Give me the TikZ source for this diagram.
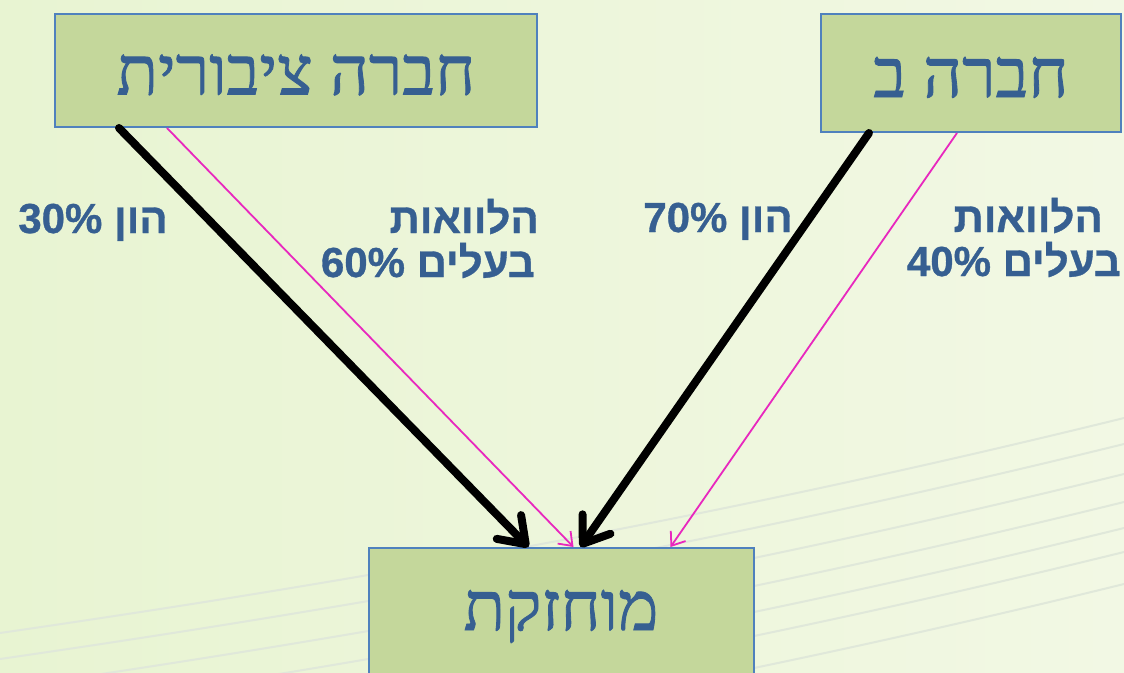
\documentclass[tikz,border=0pt]{standalone}
\usepackage{fontspec}
\usetikzlibrary{arrows.meta}
\TeXXeTstate=1
\newfontfamily\hebserif[Script=Hebrew,FakeBold=1.2]{Liberation Serif}
\newfontfamily\hebsans[Script=Hebrew,BoldFeatures={FakeBold=0.8}]{Liberation Sans}
\definecolor{bgA}{RGB}{232,244,210}
\definecolor{bgB}{RGB}{242,248,228}
\definecolor{boxfill}{RGB}{196,215,155}
\definecolor{boxline}{RGB}{79,129,189}
\definecolor{txt}{RGB}{54,95,145}
\definecolor{pinkline}{RGB}{232,40,190}
\definecolor{faint}{RGB}{224,232,218}
\begin{document}
\begin{tikzpicture}[x=1pt,y=-1pt,
  company/.style={draw=boxline, line width=2pt, fill=boxfill, inner sep=0pt,
    font=\hebserif\fontsize{68}{74}\selectfont, text=txt},
  lbl/.style={font=\hebsans\bfseries\fontsize{42}{46}\selectfont, text=txt, inner sep=0pt},
  equity/.style={line width=8pt, line cap=round, draw=black,
    -{Straight Barb[length=24pt,width=34pt,round]}},
  loan/.style={line width=1.8pt, draw=pinkline,
    -{Straight Barb[length=12pt,width=18pt]}}]
\useasboundingbox (0,0) rectangle (1124,672);
\fill[left color=bgA, right color=bgB] (0,0) rectangle (1124,672);
\begin{scope}
\clip (0,0) rectangle (1124,672);
\foreach \d in {0,26,56,84,110,134,166}
  \draw[faint, line width=2pt] (0,633+\d) .. controls (400,575+\d) and (750,510+\d) .. (1124,418+\d);
\end{scope}

\node[company, minimum width=482pt, minimum height=113pt, text height=48pt, text depth=0pt]
  (A) at (296,70.5) {\beginR חברה ציבורית\endR};
\node[company, minimum width=300pt, minimum height=118pt, text height=48pt, text depth=0pt]
  (B) at (971,73) {\beginR חברה ב\endR};
\node[company, minimum width=385pt, minimum height=164pt, text height=0pt, text depth=0pt]
  (C) at (561,630) {\beginR מוחזקת\endR};

\node[lbl, anchor=base east] (l1) at (168,233) {\beginR הון \beginL 30\%\endL\endR};
\node[lbl, anchor=base east] (l2a) at (539,233) {\beginR הלוואות\endR};
\node[lbl, anchor=base east] (l2b) at (535,277) {\beginR בעלים \beginL 60\%\endL\endR};
\node[lbl, anchor=base east] (l3) at (793,232) {\beginR הון \beginL 70\%\endL\endR};
\node[lbl, anchor=base east] (l4a) at (1103,232) {\beginR הלוואות\endR};
\node[lbl, anchor=base east] (l4b) at (1121,276) {\beginR בעלים \beginL 40\%\endL\endR};

\draw[equity] ([xshift=65pt]A.south west) -- ([xshift=161pt]C.north west);
\draw[loan] ([xshift=113pt]A.south west) -- ([xshift=206pt]C.north west);
\draw[equity] ([xshift=49pt]B.south west) -- ([xshift=213pt]C.north west);
\draw[loan] ([xshift=137pt]B.south west) -- ([xshift=303pt]C.north west);
\end{tikzpicture}
\end{document}
